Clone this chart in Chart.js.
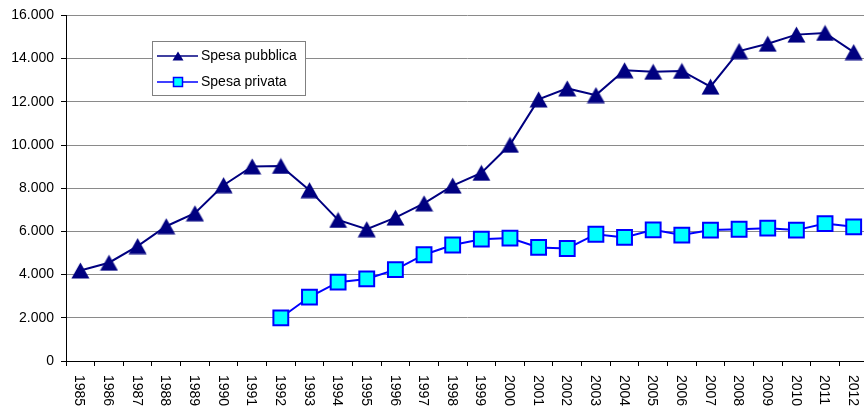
<!DOCTYPE html>
<html>
<head>
<meta charset="utf-8">
<script src="https://cdn.jsdelivr.net/npm/chart.js@4/dist/chart.umd.min.js"></script>
<style>
  html, body { margin: 0; padding: 0; overflow: hidden; background: #fff; }
  canvas { display: block; }
</style>
</head>
<body>
<canvas id="chart" width="870" height="409" style="width:870px;height:409px"></canvas>
<script>
const years = ["1985","1986","1987","1988","1989","1990","1991","1992","1993","1994",
  "1995","1996","1997","1998","1999","2000","2001","2002","2003","2004",
  "2005","2006","2007","2008","2009","2010","2011","2012"];
const spesaPubblica = [4190, 4550, 5320, 6240, 6840, 8140, 9010, 9030, 7910, 6530,
  6100, 6640, 7300, 8120, 8710, 10010, 12110, 12620, 12310, 13460,
  13390, 13430, 12700, 14350, 14690, 15110, 15190, 14300];
const spesaPrivata = [null, null, null, null, null, null, null, 2000, 2960, 3650,
  3800, 4230, 4920, 5370, 5640, 5690, 5260, 5210, 5870, 5720,
  6070, 5830, 6060, 6100, 6150, 6060, 6360, 6210];
const seriesNames = ["Spesa pubblica", "Spesa privata"];

const FONT = "'Liberation Sans', Arial, sans-serif";
const NAVY = "#000080";
const BLUE = "#0000ff";
const CYAN = "#00ffff";

// triangle marker centred on its bounding box, like the spreadsheet one
function makeTriangle(w, h) {
  const c = document.createElement("canvas");
  c.width = w; c.height = h;
  const g = c.getContext("2d");
  g.fillStyle = NAVY;
  g.beginPath();
  g.moveTo(w / 2, 0.5);
  g.lineTo(w - 0.5, h - 0.5);
  g.lineTo(0.5, h - 0.5);
  g.closePath();
  g.fill();
  return c;
}
const tri = makeTriangle(19, 17);
const triSmall = makeTriangle(12, 10);

const fmt = v => String(v).replace(/\B(?=(\d{3})+(?!\d))/g, ".");

const overlay = {
  id: "overlay",
  afterDraw(chart) {
    const ctx = chart.ctx;
    const xs = chart.scales.x;
    // rotated year labels (reading top to bottom)
    ctx.save();
    ctx.fillStyle = "#000";
    ctx.font = "14px " + FONT;
    ctx.textAlign = "left";
    ctx.textBaseline = "middle";
    xs.ticks.forEach((t, i) => {
      const x = xs.getPixelForTick(i);
      ctx.save();
      ctx.translate(x - 1, xs.top + 14);
      ctx.rotate(Math.PI / 2);
      ctx.fillText(xs.getLabelForValue(t.value), 0, 0);
      ctx.restore();
    });
    ctx.restore();

    // legend box
    ctx.save();
    ctx.fillStyle = "#fff";
    ctx.strokeStyle = "#808080";
    ctx.lineWidth = 1;
    ctx.fillRect(152, 41, 154, 55);
    ctx.strokeRect(152.5, 41.5, 153, 54);
    ctx.font = "14px " + FONT;
    ctx.textBaseline = "middle";
    ctx.fillStyle = "#000";
    const rows = [56, 82];
    // row 1
    ctx.strokeStyle = NAVY; ctx.lineWidth = 1.5;
    ctx.beginPath(); ctx.moveTo(157, rows[0]); ctx.lineTo(198, rows[0]); ctx.stroke();
    ctx.drawImage(triSmall, 178 - 6, rows[0] - 5);
    ctx.fillText(seriesNames[0], 201, rows[0]);
    // row 2
    ctx.strokeStyle = BLUE;
    ctx.beginPath(); ctx.moveTo(157, rows[1]); ctx.lineTo(198, rows[1]); ctx.stroke();
    ctx.fillStyle = CYAN;
    ctx.fillRect(173.5, rows[1] - 4.5, 9, 9);
    ctx.strokeRect(173.5, rows[1] - 4.5, 9, 9);
    ctx.fillStyle = "#000";
    ctx.fillText(seriesNames[1], 201, rows[1]);
    ctx.restore();
  }
};

new Chart("chart", {
  type: "line",
  data: {
    labels: years,
    datasets: [
      {
        label: seriesNames[0],
        data: spesaPubblica,
        borderColor: NAVY,
        borderWidth: 2,
        pointStyle: tri,
        pointRadius: 9,
        tension: 0,
      },
      {
        label: seriesNames[1],
        data: spesaPrivata,
        borderColor: BLUE,
        borderWidth: 2,
        pointStyle: "rect",
        pointRadius: 10.5,
        pointBackgroundColor: CYAN,
        pointBorderColor: BLUE,
        pointBorderWidth: 2,
        tension: 0,
      },
    ],
  },
  options: {
    responsive: false,
    animation: false,
    layout: { autoPadding: false, padding: { top: 13, right: 2, bottom: 0, left: 0 } },
    plugins: { legend: { display: false }, tooltip: { enabled: false } },
    scales: {
      x: {
        offset: true,
        grid: { offset: true, drawOnChartArea: false, drawTicks: true, tickLength: 5, tickColor: "#000" },
        border: { color: "#000", width: 1 },
        ticks: { display: false },
        afterFit(s) { s.height = 48; },
      },
      y: {
        min: 0,
        max: 16000,
        grid: { color: "#8a8a8a", tickLength: 5, tickColor: "#000" },
        border: { color: "#000", width: 1 },
        ticks: {
          stepSize: 2000,
          padding: 7,
          color: "#000",
          font: { family: FONT, size: 14 },
          callback: v => fmt(v),
        },
        afterFit(s) { s.width = 66; },
      },
    },
  },
  plugins: [overlay],
});
</script>
</body>
</html>
